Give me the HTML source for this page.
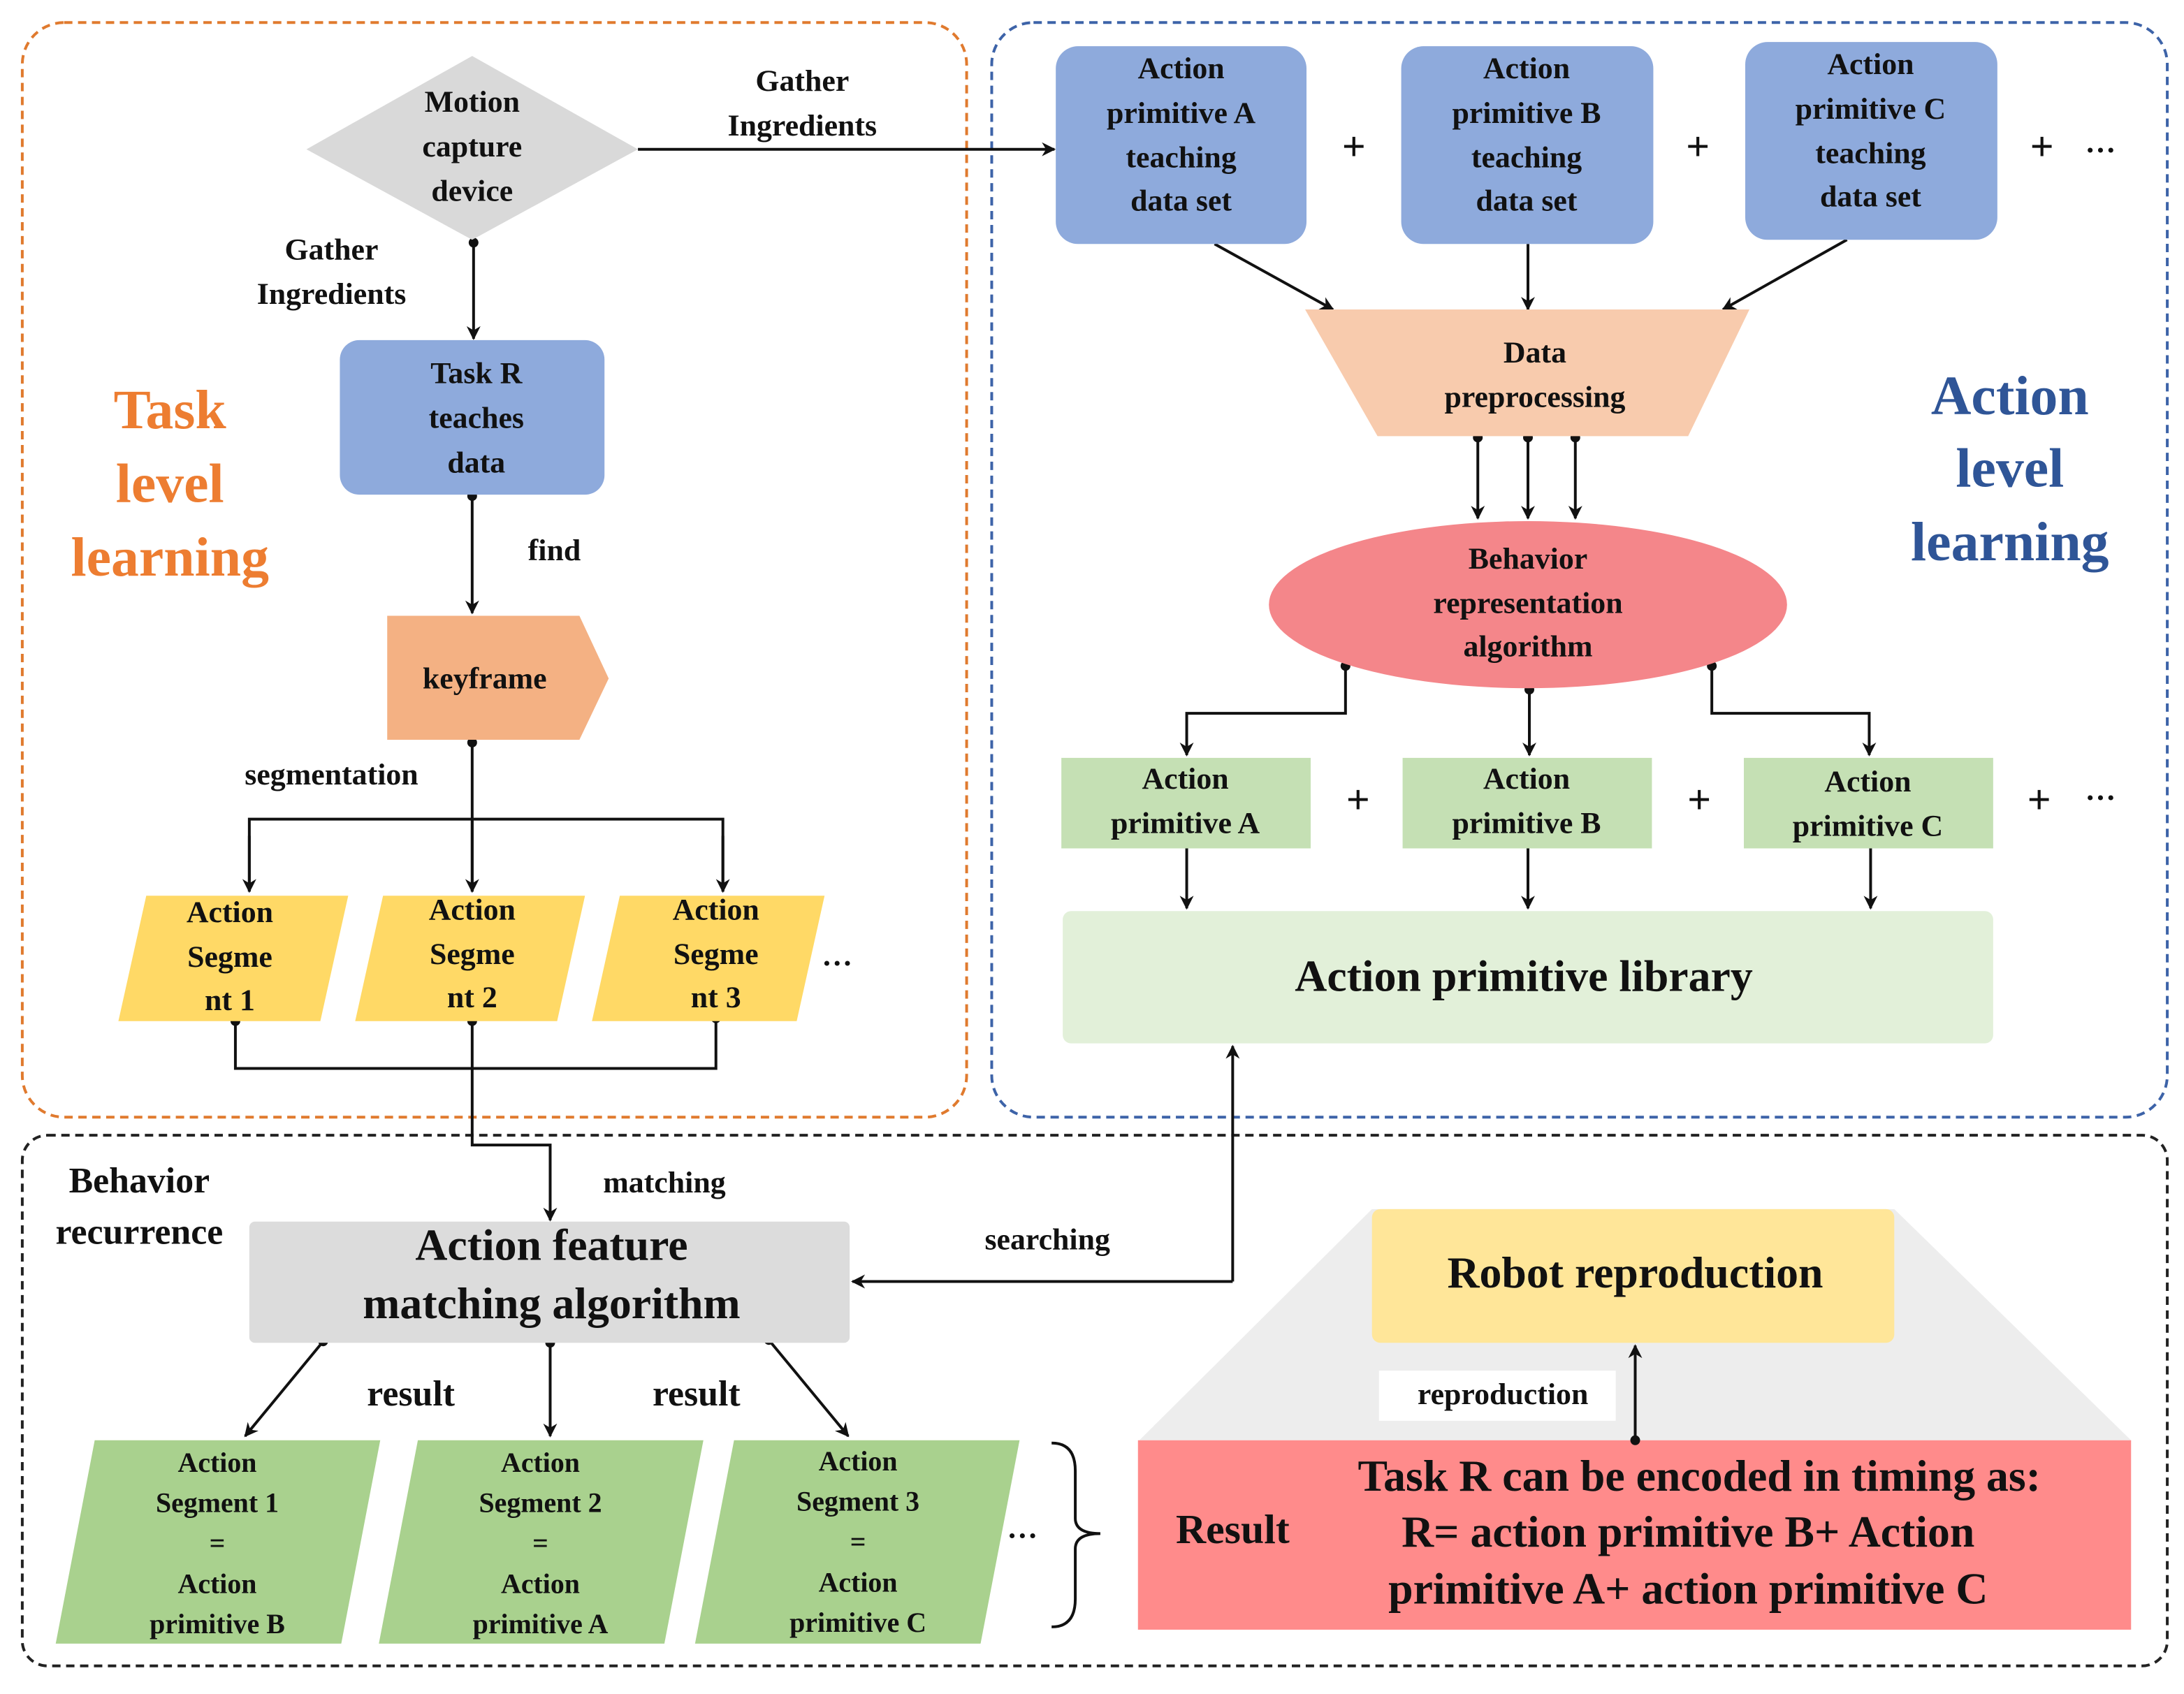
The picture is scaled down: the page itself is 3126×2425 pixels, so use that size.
<!DOCTYPE html>
<html><head><meta charset="utf-8"><style>
html,body{margin:0;padding:0;background:#fff;}
svg{display:block;}
text{font-family:"Liberation Serif",serif;font-weight:bold;fill:#111;text-anchor:middle;dominant-baseline:middle;}
</style></head><body>
<svg width="3126" height="2425" viewBox="0 0 1568 1216" xmlns="http://www.w3.org/2000/svg">
<defs>
<marker id="a" markerWidth="10" markerHeight="10" refX="9" refY="5" orient="auto" markerUnits="userSpaceOnUse"><path d="M0,0 L10,5 L0,10 L3,5 z" fill="#111"/></marker>
</defs>
<rect width="1568" height="1216" fill="#fff"/>
<!-- containers -->
<rect x="16" y="16" width="678" height="786" rx="30" fill="none" stroke="#e07a2e" stroke-width="2" stroke-dasharray="6,4"/>
<rect x="712" y="16" width="844" height="786" rx="30" fill="none" stroke="#3d63a8" stroke-width="2" stroke-dasharray="6,4"/>
<rect x="16" y="815" width="1540" height="381" rx="18" fill="none" stroke="#222" stroke-width="2" stroke-dasharray="6,4"/>

<g stroke="#111" stroke-width="2" fill="none">
<!-- left panel -->
<line x1="458" y1="107" x2="757" y2="107" marker-end="url(#a)"/>
<line x1="340" y1="174" x2="340" y2="243" marker-end="url(#a)"/>
<line x1="339" y1="356" x2="339" y2="440" marker-end="url(#a)"/>
<polyline points="339,533 339,640"/>
<line x1="339" y1="588" x2="339" y2="640" marker-end="url(#a)"/>
<polyline points="179,640 179,588 519,588 519,640"/>
<line x1="179" y1="600" x2="179" y2="640" marker-end="url(#a)"/>
<line x1="519" y1="600" x2="519" y2="640" marker-end="url(#a)"/>
<polyline points="169,733 169,767 514,767 514,731"/>
<polyline points="339,733 339,822 395,822 395,876" marker-end="url(#a)"/>
<!-- right panel -->
<line x1="872" y1="175" x2="957" y2="222" marker-end="url(#a)"/>
<line x1="1097" y1="175" x2="1097" y2="222" marker-end="url(#a)"/>
<line x1="1326" y1="172" x2="1237" y2="222" marker-end="url(#a)"/>
<line x1="1061" y1="314" x2="1061" y2="372" marker-end="url(#a)"/>
<line x1="1097" y1="314" x2="1097" y2="372" marker-end="url(#a)"/>
<line x1="1131" y1="314" x2="1131" y2="372" marker-end="url(#a)"/>
<polyline points="966,478 966,512 852,512 852,542" marker-end="url(#a)"/>
<line x1="1098" y1="495" x2="1098" y2="542" marker-end="url(#a)"/>
<polyline points="1229,478 1229,512 1342,512 1342,542" marker-end="url(#a)"/>
<line x1="852" y1="609" x2="852" y2="652" marker-end="url(#a)"/>
<line x1="1097" y1="609" x2="1097" y2="652" marker-end="url(#a)"/>
<line x1="1343" y1="609" x2="1343" y2="652" marker-end="url(#a)"/>
<!-- searching -->
<line x1="885" y1="920" x2="885" y2="751" marker-end="url(#a)"/>
<line x1="885" y1="920" x2="612" y2="920" marker-end="url(#a)"/>
<!-- results -->
<line x1="232" y1="963" x2="176" y2="1031" marker-end="url(#a)"/>
<line x1="395" y1="964" x2="395" y2="1031" marker-end="url(#a)"/>
<line x1="552" y1="962" x2="609" y2="1031" marker-end="url(#a)"/>
<!-- brace -->
<path d="M755,1036 Q772,1036 772,1056 L772,1090 Q772,1101 790,1101 Q772,1101 772,1112 L772,1148 Q772,1168 755,1168"/>
</g>

<!-- dots -->
<g fill="#111">
<circle cx="340" cy="174" r="3.5"/><circle cx="339" cy="356" r="3.5"/><circle cx="339" cy="533" r="3.5"/>
<circle cx="169" cy="733" r="3.5"/><circle cx="339" cy="733" r="3.5"/><circle cx="514" cy="731" r="3.5"/>
<circle cx="1061" cy="314" r="3.5"/><circle cx="1097" cy="314" r="3.5"/><circle cx="1131" cy="314" r="3.5"/>
<circle cx="966" cy="478" r="3.5"/><circle cx="1098" cy="495" r="3.5"/><circle cx="1229" cy="478" r="3.5"/>
<circle cx="232" cy="963" r="3.5"/><circle cx="395" cy="964" r="3.5"/><circle cx="552" cy="962" r="3.5"/>
</g>

<!-- shapes left -->
<polygon points="220,107 339,40 458,107 339,172" fill="#d9d9d9"/>
<rect x="244" y="244" width="190" height="111" rx="14" fill="#8eaadc"/>
<polygon points="278,442 416,442 437,487 416,531 278,531" fill="#f4b183"/>
<polygon points="105,643 250,643 230,733 85,733" fill="#ffd966"/>
<polygon points="275,643 420,643 400,733 255,733" fill="#ffd966"/>
<polygon points="445,643 592,643 572,733 425,733" fill="#ffd966"/>

<!-- shapes right -->
<rect x="758" y="33" width="180" height="142" rx="16" fill="#8eaadc"/>
<rect x="1006" y="33" width="181" height="142" rx="16" fill="#8eaadc"/>
<rect x="1253" y="30" width="181" height="142" rx="16" fill="#8eaadc"/>
<polygon points="937,222 1256,222 1212,313 989,313" fill="#f8cbad"/>
<ellipse cx="1097" cy="434" rx="186" ry="60" fill="#f4868a"/>
<rect x="762" y="544" width="179" height="65" fill="#c5e0b4"/>
<rect x="1007" y="544" width="179" height="65" fill="#c5e0b4"/>
<rect x="1252" y="544" width="179" height="65" fill="#c5e0b4"/>
<rect x="763" y="654" width="668" height="95" rx="6" fill="#e2f0d9"/>

<!-- bottom -->
<rect x="179" y="877" width="431" height="87" rx="4" fill="#dcdcdc"/>
<polygon points="68,1034 273,1034 245,1180 40,1180" fill="#a9d18e"/>
<polygon points="300,1034 505,1034 477,1180 272,1180" fill="#a9d18e"/>
<polygon points="527,1034 732,1034 704,1180 499,1180" fill="#a9d18e"/>
<polygon points="818,1034 985,868 1360,868 1530,1034" fill="#ededed"/>
<rect x="985" y="868" width="375" height="96" rx="6" fill="#ffe699"/>
<rect x="817" y="1034" width="713" height="136" fill="#ff8b8b"/>
<rect x="990" y="984" width="170" height="36" fill="#fff"/>
<line x1="1174" y1="1034" x2="1174" y2="966" stroke="#111" stroke-width="2" marker-end="url(#a)"/>
<circle cx="1174" cy="1034" r="3.5" fill="#111"/>

<!-- text -->
<g font-size="22">
<text x="339" y="75">Motion</text><text x="339" y="107">capture</text><text x="339" y="139">device</text>
<text x="576" y="60">Gather</text><text x="576" y="92">Ingredients</text>
<text x="238" y="181">Gather</text><text x="238" y="213">Ingredients</text>
<text x="342" y="270">Task R</text><text x="342" y="302">teaches</text><text x="342" y="334">data</text>
<text x="398" y="397">find</text>
<text x="348" y="489">keyframe</text>
<text x="238" y="558">segmentation</text>
<text x="165" y="657">Action</text><text x="165" y="689">Segme</text><text x="165" y="720">nt 1</text>
<text x="339" y="655">Action</text><text x="339" y="687">Segme</text><text x="339" y="718">nt 2</text>
<text x="514" y="655">Action</text><text x="514" y="687">Segme</text><text x="514" y="718">nt 3</text>
<text x="601" y="688">…</text>
<text x="848" y="51">Action</text><text x="848" y="83">primitive A</text><text x="848" y="115">teaching</text><text x="848" y="146">data set</text>
<text x="1096" y="51">Action</text><text x="1096" y="83">primitive B</text><text x="1096" y="115">teaching</text><text x="1096" y="146">data set</text>
<text x="1343" y="48">Action</text><text x="1343" y="80">primitive C</text><text x="1343" y="112">teaching</text><text x="1343" y="143">data set</text>
<text x="1102" y="255">Data</text><text x="1102" y="287">preprocessing</text>
<text x="1097" y="403">Behavior</text><text x="1097" y="435">representation</text><text x="1097" y="466">algorithm</text>
<text x="851" y="561">Action</text><text x="851" y="593">primitive A</text>
<text x="1096" y="561">Action</text><text x="1096" y="593">primitive B</text>
<text x="1341" y="563">Action</text><text x="1341" y="595">primitive C</text>
<text x="477" y="851">matching</text>
<text x="752" y="892">searching</text>
<text x="1079" y="1003">reproduction</text>
</g>
<g font-size="30">
<text x="972" y="108">+</text><text x="1219" y="108">+</text><text x="1466" y="108">+</text>
<text x="975" y="577">+</text><text x="1220" y="577">+</text><text x="1464" y="577">+</text>
</g>
<g font-size="22"><text x="1508" y="104">…</text><text x="1508" y="569">…</text><text x="734" y="1099">…</text></g>
<g font-size="40" style="fill:#ed7d31"><text x="122" y="298" style="fill:#ed7d31">Task</text><text x="122" y="351" style="fill:#ed7d31">level</text><text x="122" y="404" style="fill:#ed7d31">learning</text></g>
<g font-size="40"><text x="1443" y="288" style="fill:#2f5597">Action</text><text x="1443" y="340" style="fill:#2f5597">level</text><text x="1443" y="393" style="fill:#2f5597">learning</text></g>
<text x="1094" y="704" font-size="32">Action primitive library</text>
<g font-size="26"><text x="100" y="850">Behavior</text><text x="100" y="887">recurrence</text>
<text x="295" y="1003">result</text><text x="500" y="1003">result</text>
<text x="885" y="1101" font-size="30">Result</text></g>
<g font-size="32"><text x="396" y="897">Action feature</text><text x="396" y="939">matching algorithm</text>
<text x="1174" y="917">Robot reproduction</text>
<text x="1220" y="1063">Task R can be encoded in timing as:</text>
<text x="1212" y="1103">R= action primitive B+ Action</text>
<text x="1212" y="1144">primitive A+ action primitive C</text></g>
<g font-size="20">
<text x="156" y="1052">Action</text><text x="156" y="1081">Segment 1</text><text x="156" y="1110">=</text><text x="156" y="1139">Action</text><text x="156" y="1168">primitive B</text>
<text x="388" y="1052">Action</text><text x="388" y="1081">Segment 2</text><text x="388" y="1110">=</text><text x="388" y="1139">Action</text><text x="388" y="1168">primitive A</text>
<text x="616" y="1051">Action</text><text x="616" y="1080">Segment 3</text><text x="616" y="1109">=</text><text x="616" y="1138">Action</text><text x="616" y="1167">primitive C</text>
</g>
</svg>
</body></html>
